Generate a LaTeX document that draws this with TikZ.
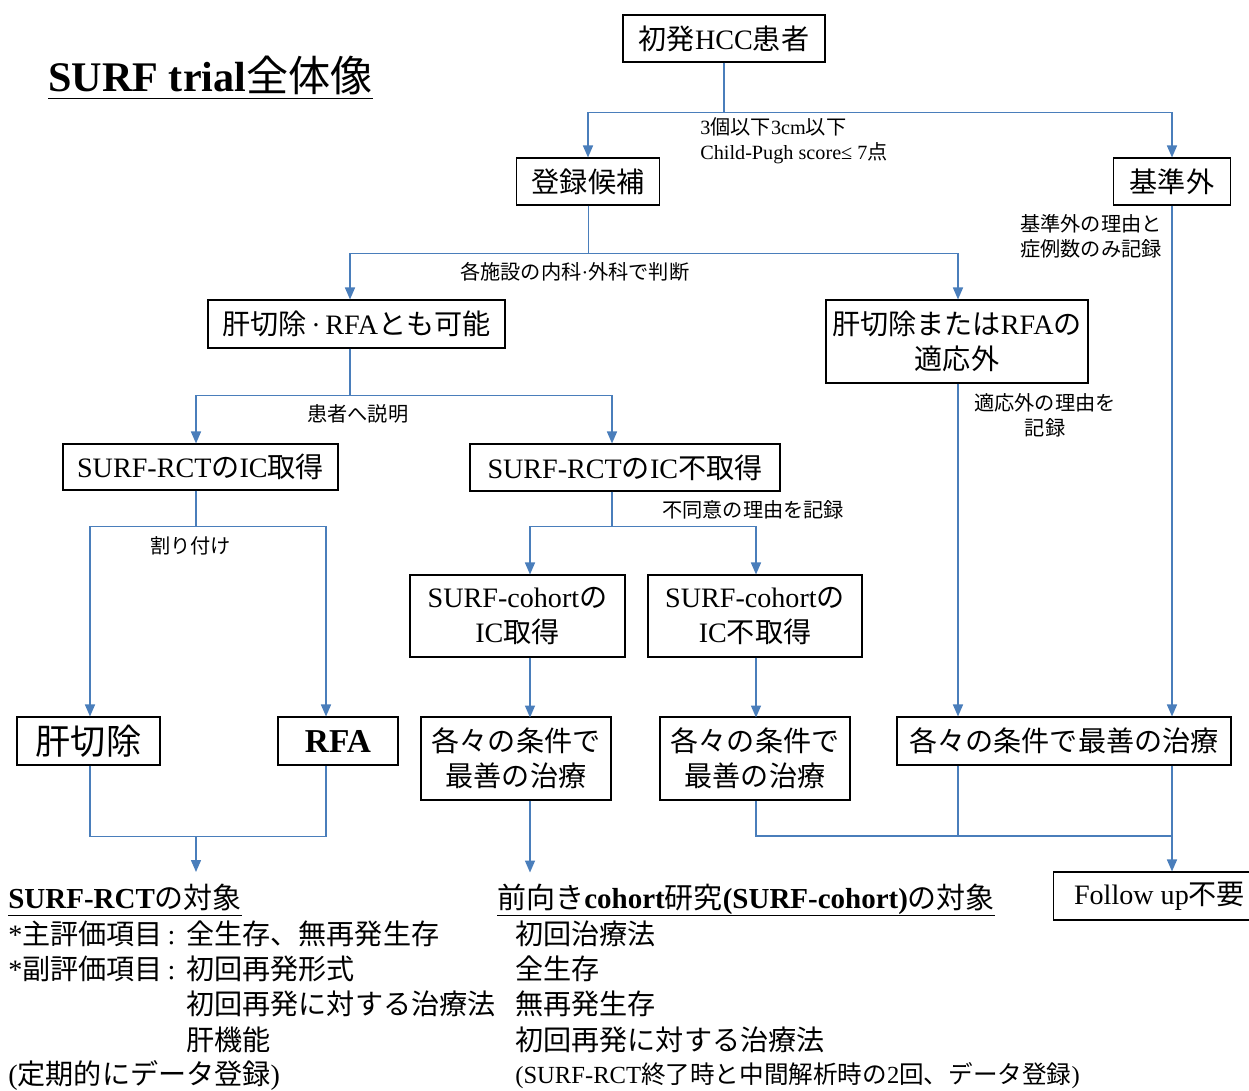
\documentclass[tikz,border=0pt]{standalone}
\usepackage{fontspec}
\setmainfont{Liberation Serif}
\newfontfamily\jp{Noto Sans CJK JP}
\newcommand\J[1]{{\jp #1}}
\newcommand\ul[1]{\underline{\raisebox{0pt}[\height][2.5pt]{#1}}}
\usetikzlibrary{arrows.meta}
\definecolor{lblue}{RGB}{74,126,187}
\begin{document}
\begin{tikzpicture}[x=0.02cm,y=-0.02cm,
  bx/.style 2 args={draw=black, line width=0.6pt, minimum width=#1*0.02cm, minimum height=#2*0.02cm,
    inner sep=0pt, align=center, font=\fontsize{16}{20}\selectfont},
  ln/.style={draw=lblue, line width=0.85pt},
  arr/.style={ln, -{Triangle[length=0.24cm,width=0.2cm]}},
  lbl/.style={inner sep=0pt, align=left, font=\fontsize{11.5}{14.5}\selectfont},
  txt/.style={inner sep=0pt, anchor=west, font=\fontsize{16}{20}\selectfont},
  hd/.style={inner sep=0pt, anchor=base west, font=\fontsize{16.5}{20}\selectfont}]
\clip (0,0) rectangle (1249,1091);
\fill[white] (0,0) rectangle (1249,1091);

% title
\node[inner sep=0pt, anchor=base west, font=\fontsize{24}{28}\selectfont] (title) at (48,92)
  {\ul{\textbf{SURF trial}\J{全体像}}};

% boxes
\node[bx={202}{47}] (hcc) at (724,38.5) {\J{初発}HCC\J{患者}};
\node[bx={143}{47}] (toroku) at (588,181.5) {\J{登録候補}};
\node[bx={117}{47}] (kijun) at (1172,181.5) {\J{基準外}};
\node[bx={297}{48}] (kanou) at (356.5,324) {\J{肝切除}\,·\,RFA\J{とも可能}};
\node[bx={262}{83}] (tekiou) at (957,341.5) {\J{肝切除または}RFA\J{の}\\\J{適応外}};
\node[bx={275}{46}] (icA) at (200.5,467) {SURF-RCT\J{の}IC\J{取得}};
\node[bx={310}{47}] (icB) at (625,467.5) {SURF-RCT\J{の}IC\J{不取得}};
\node[bx={215}{82}] (coA) at (517.5,616) {SURF-cohort\J{の}\\IC\J{取得}};
\node[bx={214}{82}] (coB) at (755,616) {SURF-cohort\J{の}\\IC\J{不取得}};
\node[bx={143}{48}, font=\fontsize{20}{24}\selectfont] (kanset) at (88.5,741) {\J{肝切除}};
\node[bx={120}{48}, font=\fontsize{19}{24}\selectfont\bfseries] (rfa) at (338,741) {RFA};
\node[bx={190}{83}] (trL) at (516,758.5) {\J{各々の条件で}\\\J{最善の治療}};
\node[bx={190}{83}] (trM) at (755,758.5) {\J{各々の条件で}\\\J{最善の治療}};
\node[bx={334}{48}] (trR) at (1064,741) {\J{各々の条件で最善の治療}};
\node[bx={212}{48}, anchor=west] (fu) at (1053,896) {Follow up\J{不要}};

% connector labels
\node[lbl, anchor=west] (l1) at (700,141) {3\J{個以下}3cm\J{以下}\\Child-Pugh score≤ 7\J{点}};
\node[lbl, anchor=west] (l2) at (1020,236.5) {\J{基準外の理由と}\\\J{症例数のみ記録}};
\node[lbl, anchor=west] (l3) at (460,272) {\J{各施設の内科}·\J{外科で判断}};
\node[lbl, anchor=west] (l4) at (307,414) {\J{患者へ説明}};
\node[lbl, align=center] (l5) at (1045,415.5) {\J{適応外の理由を}\\\J{記録}};
\node[lbl, anchor=west] (l6) at (150,546) {\J{割り付け}};
\node[lbl, anchor=west] (l7) at (662,510) {\J{不同意の理由を記録}};

% connectors
\draw[arr] (hcc.south) -- ++(0,50) -| (toroku.north);
\draw[arr] (hcc.south) -- ++(0,50) -| (kijun.north);
\draw[arr] ([xshift=0.01cm]toroku.south) -- ++(0,48) -| ([xshift=-0.13cm]kanou.north);
\draw[arr] ([xshift=0.01cm]toroku.south) -- ++(0,48) -| ([xshift=0.02cm]tekiou.north);
\draw[arr] ([xshift=-0.13cm]kanou.south) -- ++(0,47) -| ([xshift=-0.09cm]icA.north);
\draw[arr] ([xshift=-0.13cm]kanou.south) -- ++(0,47) -| ([xshift=-0.26cm]icB.north);
\draw[arr] ([xshift=-0.09cm]icA.south) -- ++(0,36) -| ([xshift=0.03cm]kanset.north);
\draw[arr] ([xshift=-0.09cm]icA.south) -- ++(0,36) -| ([xshift=-0.24cm]rfa.north);
\draw[arr] ([xshift=-0.26cm]icB.south) -- ++(0,35) -| ([xshift=0.25cm]coA.north);
\draw[arr] ([xshift=-0.26cm]icB.south) -- ++(0,35) -| ([xshift=0.02cm]coB.north);
\draw[arr] ([xshift=0.25cm]coA.south) -- ++(0,60);
\draw[arr] ([xshift=0.02cm]coB.south) -- ++(0,60);
\draw[arr] ([xshift=0.02cm]tekiou.south) -- ([xshift=0.02cm]tekiou.south |- trR.north);
\draw[arr] (kijun.south) -- (kijun.south |- trR.north);
% merges
\draw[ln] ([xshift=0.03cm]kanset.south) -- ++(0,71) -| ([xshift=-0.24cm]rfa.south);
\coordinate (jm) at (196,836);
\draw[arr] (jm) -- ++(0,36);
\draw[arr] ([xshift=0.28cm]trL.south) -- ++(0,72);
\coordinate (m3) at (1172,836);
\draw[ln] ([xshift=0.02cm]trM.south) |- (m3);
\draw[ln] ([xshift=0.02cm]tekiou.south |- trR.south) -- ([xshift=0.02cm]tekiou.south |- m3);
\draw[arr] (kijun.south |- trR.south) -- (kijun.south |- fu.north);

% bottom left text
\node[hd] (rctT) at (8,908) {\ul{\textbf{SURF-RCT}\J{の対象}}};
\node[txt] (r1) at (8,934) {\makebox[3.56cm][l]{*\J{主評価項目}\,:}\J{全生存、無再発生存}};
\node[txt] (r2) at (8,969) {\makebox[3.56cm][l]{*\J{副評価項目}\,:}\J{初回再発形式}};
\node[txt] (r3) at (186,1004) {\J{初回再発に対する治療法}};
\node[txt] (r4) at (186,1040) {\J{肝機能}};
\node[txt] (r5) at (8,1076) {(\J{定期的にデータ登録})};

% bottom right text
\node[hd] (coT) at (497,908) {\ul{\J{前向き}\textbf{cohort}\J{研究}\textbf{(SURF-cohort)}\J{の対象}}};
\node[txt] (c1) at (515,934) {\J{初回治療法}};
\node[txt] (c2) at (515,969) {\J{全生存}};
\node[txt] (c3) at (515,1004) {\J{無再発生存}};
\node[txt] (c4) at (515,1040) {\J{初回再発に対する治療法}};
\node[txt, font=\fontsize{14}{18}\selectfont] (c5) at (515,1076) {(SURF-RCT\J{終了時と中間解析時の}2\J{回、データ登録})};
\end{tikzpicture}
\end{document}
